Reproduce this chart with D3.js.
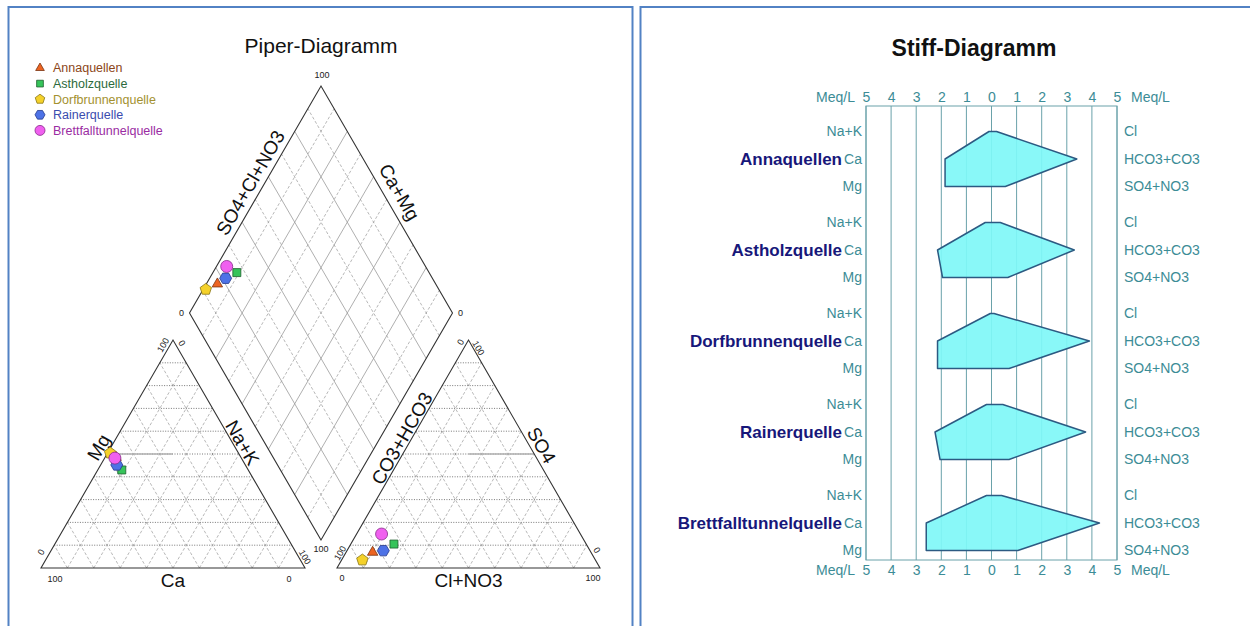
<!DOCTYPE html>
<html>
<head>
<meta charset="utf-8">
<script src="https://cdn.jsdelivr.net/npm/d3@7"></script>
<style>
  body { margin: 0; background: #fff; }
  svg { font-family: "Liberation Sans", Arial, sans-serif; display: block; }
</style>
</head>
<body>
<svg id="chart" width="1250" height="626"></svg>
<script>
// ---- data ----
const samples = ['Annaquellen', 'Astholzquelle', 'Dorfbrunnenquelle', 'Rainerquelle', 'Brettfalltunnelquelle'];
const shapes = ['triangle', 'square', 'pentagon', 'hexagon', 'circle'];
const fills = ['#ec6422', '#36c45a', '#f4d12a', '#4d72e6', '#f060ef'];
const strokes = ['#7a3412', '#1d5e2c', '#8a7614', '#263a8c', '#862c8a'];
const textColors = ['#8c4618', '#2c6a3c', '#a39130', '#3a4cae', '#9a2ca2'];

// Piper, percent of meq
const cationNaK = [4.2, 9.1, 1.0, 6.1, 3.9];
const cationMg = [48.5, 43.0, 50.4, 45.2, 48.2];
const anionSO4 = [6.9, 10.5, 3.5, 7.6, 14.9];
const anionCl = [10.1, 16.4, 7.9, 13.8, 9.5];
const gridSteps = [10, 20, 30, 40, 50, 60, 70, 80, 90];

// Stiff, meq/L
const naK = [0.1, 0.25, 0.05, 0.2, 0.2];
const ca = [1.85, 2.15, 2.15, 2.25, 2.6];
const mg = [1.85, 1.95, 2.15, 2.05, 2.6];
const cl = [0.2, 0.35, 0.1, 0.45, 0.4];
const hco3 = [3.4, 3.3, 3.9, 3.75, 4.3];
const so4 = [0.55, 0.65, 0.7, 0.7, 1.05];
const cationLabels = ['Na+K', 'Ca', 'Mg'];
const anionLabels = ['Cl', 'HCO3+CO3', 'SO4+NO3'];
const stiffTicks = [-5, -4, -3, -2, -1, 0, 1, 2, 3, 4, 5];

const svg = d3.select('#chart');

// panel frames
svg.append('rect').attr('x', 8.5).attr('y', 7).attr('width', 624).attr('height', 660)
  .attr('fill', 'none').attr('stroke', '#5282c4').attr('stroke-width', 2);
svg.append('rect').attr('x', 640.5).attr('y', 7).attr('width', 700).attr('height', 660)
  .attr('fill', 'none').attr('stroke', '#5282c4').attr('stroke-width', 2);

function markerPath(shape, r) {
  if (shape === 'circle') return d3.symbol(d3.symbolCircle, Math.PI * r * r)();
  if (shape === 'square') return d3.symbol(d3.symbolSquare, (1.6 * r) * (1.6 * r))();
  const n = { triangle: 3, pentagon: 5, hexagon: 6 }[shape];
  const start = shape === 'hexagon' ? 0 : -Math.PI / 2;
  const pts = d3.range(n).map(i => {
    const a = start + i * 2 * Math.PI / n;
    return [r * Math.cos(a), r * Math.sin(a)];
  });
  return 'M' + pts.join('L') + 'Z';
}

// ================= Piper =================
const P = svg.append('g');
const leftX = d3.scaleLinear().domain([0, 100]).range([41, 305]);
const rightX = d3.scaleLinear().domain([0, 100]).range([337, 600]);
const triY = d3.scaleLinear().domain([0, 100]).range([568, 340]);
const dX = d3.scaleLinear().domain([-100, 100]).range([189.5, 452.5]);
const dY = d3.scaleLinear().domain([0, 200]).range([540, 86]);

const leftPt = (na, m) => [leftX(na + m / 2), triY(m)];
const rightPt = (c, s) => [rightX(c + s / 2), triY(s)];
const diaPt = (camg, scl) => [dX(scl - camg), dY(camg + scl)];

function seg(g, a, b, style) {
  g.append('line')
    .attr('x1', a[0]).attr('y1', a[1]).attr('x2', b[0]).attr('y2', b[1])
    .attr('stroke', style.c).attr('stroke-width', style.w)
    .attr('stroke-dasharray', style.d || null);
}
const dotted = { c: '#555', w: 0.8, d: '1,1.5' };
const dashed = { c: '#9a9a9a', w: 0.7, d: '3,2' };
const solidGrid = { c: '#9a9a9a', w: 0.8 };

// triangle grids
gridSteps.forEach(k => {
  seg(P, leftPt(0, k), leftPt(100 - k, k), dotted);
  seg(P, leftPt(100 - k, 0), leftPt(0, 100 - k), dashed);
  seg(P, leftPt(k, 0), leftPt(k, 100 - k), dashed);
  seg(P, rightPt(0, k), rightPt(100 - k, k), dotted);
  seg(P, rightPt(100 - k, 0), rightPt(0, 100 - k), dashed);
  seg(P, rightPt(k, 0), rightPt(k, 100 - k), dashed);
  const st = k % 20 === 0 ? solidGrid : dashed;
  seg(P, diaPt(k, 0), diaPt(k, 100), st);
  seg(P, diaPt(0, k), diaPt(100, k), st);
});
// highlighted half lines
seg(P, leftPt(0, 50), leftPt(25, 50), { c: '#b0b0b0', w: 1.4 });
seg(P, rightPt(25, 50), rightPt(50, 50), { c: '#b0b0b0', w: 1.4 });

const outline = pts => P.append('path').attr('d', 'M' + pts.join('L') + 'Z')
  .attr('fill', 'none').attr('stroke', '#333').attr('stroke-width', 1.1);
outline([leftPt(0, 0), leftPt(100, 0), leftPt(0, 100)]);
outline([rightPt(0, 0), rightPt(100, 0), rightPt(0, 100)]);
outline([diaPt(0, 0), diaPt(100, 0), diaPt(100, 100), diaPt(0, 100)]);

// axis titles along edges
function edgeLabel(p1, p2, t, off, txt) {
  const th = Math.atan2(p2[1] - p1[1], p2[0] - p1[0]);
  const x = p1[0] + (p2[0] - p1[0]) * t + off * Math.sin(th);
  const y = p1[1] + (p2[1] - p1[1]) * t - off * Math.cos(th);
  P.append('text').attr('transform', `translate(${x},${y}) rotate(${th * 180 / Math.PI})`)
    .attr('text-anchor', 'middle').attr('font-size', 19).attr('fill', '#111').text(txt);
}
edgeLabel(leftPt(0, 0), leftPt(0, 100), 0.506, 4, 'Mg');
edgeLabel(leftPt(0, 100), leftPt(100, 0), 0.47, 2, 'Na+K');
edgeLabel(diaPt(100, 0), diaPt(100, 100), 0.546, 6, 'SO4+Cl+NO3');
edgeLabel(diaPt(100, 100), diaPt(0, 100), 0.5, 8, 'Ca+Mg');
edgeLabel(rightPt(0, 0), rightPt(0, 100), 0.55, 2, 'CO3+HCO3');
edgeLabel(rightPt(0, 100), rightPt(100, 0), 0.485, 4, 'SO4');
P.append('text').attr('x', leftX(50)).attr('y', 587).attr('text-anchor', 'middle')
  .attr('font-size', 19).attr('fill', '#111').text('Ca');
P.append('text').attr('x', rightX(50)).attr('y', 587).attr('text-anchor', 'middle')
  .attr('font-size', 19).attr('fill', '#111').text('Cl+NO3');

// corner tick labels: corner, dx, dy, rotation, text
const cornerTicks = [
  [leftPt(0, 0), 14, 11, 0, '100'], [leftPt(100, 0), -16, 11, 0, '0'],
  [leftPt(0, 0), 0, -16, -60, '0'], [leftPt(0, 100), -10, 5, -60, '100'],
  [leftPt(0, 100), 9, 3, 60, '0'], [leftPt(100, 0), 0, -11, 60, '100'],
  [rightPt(0, 0), 5, 10, 0, '0'], [rightPt(100, 0), -7, 10, 0, '100'],
  [rightPt(0, 0), 3, -15, -60, '100'], [rightPt(0, 100), -8, 2, -60, '0'],
  [rightPt(0, 100), 10, 8, 60, '100'], [rightPt(100, 0), -3, -18, 60, '0'],
  [diaPt(100, 100), 1, -11, 0, '100'], [diaPt(100, 0), -8, 0, 0, '0'],
  [diaPt(0, 100), 8, 0, 0, '0'], [diaPt(0, 0), 0, 9, 0, '100']
];
cornerTicks.forEach(([p, dx, dy, rot, txt]) => {
  P.append('text').attr('transform', `translate(${p[0] + dx},${p[1] + dy}) rotate(${rot})`)
    .attr('text-anchor', 'middle').attr('dy', '0.35em')
    .attr('font-size', 9).attr('fill', '#222').text(txt);
});

// data points
samples.forEach((s, i) => {
  const pts = [
    leftPt(cationNaK[i], cationMg[i]),
    rightPt(anionCl[i], anionSO4[i]),
    diaPt(100 - cationNaK[i], anionSO4[i] + anionCl[i])
  ];
  pts.forEach(p => {
    P.append('path').attr('d', markerPath(shapes[i], shapes[i] === 'square' ? 5 : 6))
      .attr('transform', `translate(${p[0]},${p[1]})`)
      .attr('fill', fills[i]).attr('stroke', strokes[i]).attr('stroke-width', 0.8);
  });
});

P.append('text').attr('x', 321).attr('y', 53).attr('text-anchor', 'middle')
  .attr('font-size', 21).attr('fill', '#111').text('Piper-Diagramm');

// legend
const legend = P.append('g');
samples.forEach((s, i) => {
  const y = 68 + i * 15.6;
  legend.append('path').attr('d', markerPath(shapes[i], shapes[i] === 'square' ? 4.2 : 5))
    .attr('transform', `translate(40,${y})`)
    .attr('fill', fills[i]).attr('stroke', strokes[i]).attr('stroke-width', 0.8);
  legend.append('text').attr('x', 53).attr('y', y).attr('dy', '0.35em')
    .attr('font-size', 12.5).attr('fill', textColors[i]).text(s);
});

// ================= Stiff =================
const S = svg.append('g');
const teal = '#3c8c96';
const sx = d3.scaleLinear().domain([-5, 5]).range([866, 1117]);
const sy = d3.scaleBand().domain(samples).range([113.5, 568.5]);
const ry = d3.scalePoint().domain([0, 1, 2]).range([-27.5, 27.5]);
const rowY = (s, r) => sy(s) + sy.bandwidth() / 2 + ry(r);
const gridTop = 106, gridBottom = 560;

S.append('text').attr('x', 974).attr('y', 56).attr('text-anchor', 'middle')
  .attr('font-size', 23).attr('font-weight', 'bold').attr('fill', '#111').text('Stiff-Diagramm');

stiffTicks.forEach(t => {
  S.append('line').attr('x1', sx(t)).attr('x2', sx(t)).attr('y1', gridTop).attr('y2', gridBottom)
    .attr('stroke', '#6aa2aa').attr('stroke-width', 1);
});
S.append('rect').attr('x', sx(-5)).attr('y', gridTop).attr('width', sx(5) - sx(-5))
  .attr('height', gridBottom - gridTop).attr('fill', 'none').attr('stroke', '#6aa2aa');

const topAxis = S.append('g').attr('transform', 'translate(0,101.5)')
  .call(d3.axisTop(sx).tickValues(stiffTicks).tickFormat(d => Math.abs(d)).tickSize(0).tickPadding(0));
const botAxis = S.append('g').attr('transform', 'translate(0,565)')
  .call(d3.axisBottom(sx).tickValues(stiffTicks).tickFormat(d => Math.abs(d)).tickSize(0).tickPadding(0));
[topAxis, botAxis].forEach(a => {
  a.select('.domain').remove();
  a.selectAll('text').attr('font-size', 14).attr('fill', teal);
  a.attr('font-family', null);
});
[[101.5, null], [565, '0.71em']].forEach(([y, dy]) => {
  S.append('text').attr('x', 855).attr('y', y).attr('dy', dy).attr('text-anchor', 'end')
    .attr('font-size', 14).attr('fill', teal).text('Meq/L');
  S.append('text').attr('x', 1131).attr('y', y).attr('dy', dy)
    .attr('font-size', 14).attr('fill', teal).text('Meq/L');
});

samples.forEach((s, i) => {
  cationLabels.forEach((lab, r) => {
    S.append('text').attr('x', 862).attr('y', rowY(s, r)).attr('dy', '0.35em')
      .attr('text-anchor', 'end').attr('font-size', 14).attr('fill', teal).text(lab);
  });
  anionLabels.forEach((lab, r) => {
    S.append('text').attr('x', 1124).attr('y', rowY(s, r)).attr('dy', '0.35em')
      .attr('font-size', 14).attr('fill', teal).text(lab);
  });
  S.append('text').attr('x', 842).attr('y', rowY(s, 1)).attr('dy', '0.35em')
    .attr('text-anchor', 'end').attr('font-size', 17).attr('font-weight', 'bold')
    .attr('fill', '#17177a').text(s);

  const poly = [
    [sx(-naK[i]), rowY(s, 0)], [sx(-ca[i]), rowY(s, 1)], [sx(-mg[i]), rowY(s, 2)],
    [sx(so4[i]), rowY(s, 2)], [sx(hco3[i]), rowY(s, 1)], [sx(cl[i]), rowY(s, 0)]
  ];
  S.append('path').attr('d', 'M' + poly.join('L') + 'Z')
    .attr('fill', '#7ff7f7').attr('fill-opacity', 0.92)
    .attr('stroke', '#2c5a82').attr('stroke-width', 1.5).attr('stroke-linejoin', 'round');
});
</script>
</body>
</html>
